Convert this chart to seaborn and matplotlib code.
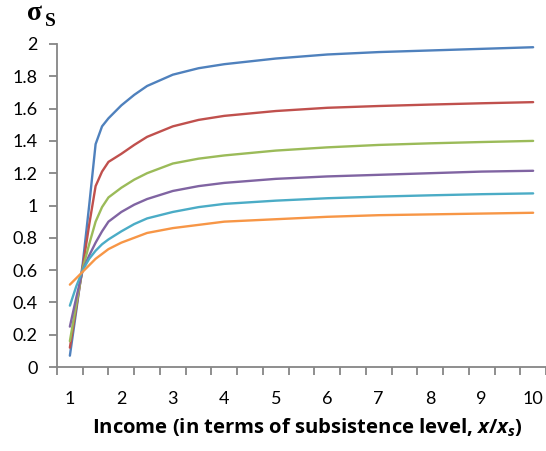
import matplotlib
matplotlib.use("Agg")
import matplotlib.pyplot as plt
import numpy as np
import pandas as pd
import seaborn as sns

# ---- data ----
income = [1, 1.125, 1.25, 1.375, 1.5, 1.625, 1.75, 2, 2.25, 2.5, 3, 3.5, 4, 5, 6, 7, 8, 9, 10]
series_blue = [0.07, 0.35, 0.64, 1.00, 1.38, 1.49, 1.54, 1.62, 1.685, 1.74, 1.81, 1.85, 1.875, 1.91, 1.935, 1.95, 1.96, 1.97, 1.98]
series_red = [0.12, 0.37, 0.62, 0.88, 1.12, 1.21, 1.27, 1.32, 1.375, 1.425, 1.49, 1.53, 1.555, 1.585, 1.605, 1.616, 1.625, 1.633, 1.64]
series_green = [0.16, 0.39, 0.61, 0.76, 0.90, 0.99, 1.05, 1.11, 1.16, 1.20, 1.26, 1.29, 1.31, 1.34, 1.36, 1.375, 1.385, 1.393, 1.40]
series_purple = [0.25, 0.43, 0.60, 0.69, 0.77, 0.84, 0.90, 0.96, 1.005, 1.04, 1.09, 1.12, 1.14, 1.165, 1.18, 1.19, 1.20, 1.21, 1.215]
series_cyan = [0.38, 0.50, 0.60, 0.67, 0.72, 0.76, 0.79, 0.84, 0.885, 0.92, 0.96, 0.99, 1.01, 1.03, 1.045, 1.055, 1.063, 1.07, 1.075]
series_orange = [0.51, 0.55, 0.59, 0.63, 0.67, 0.70, 0.73, 0.77, 0.80, 0.83, 0.86, 0.88, 0.90, 0.915, 0.93, 0.94, 0.945, 0.95, 0.955]

series_names = ["s1", "s2", "s3", "s4", "s5", "s6"]
series_values = [series_blue, series_red, series_green, series_purple, series_cyan, series_orange]
colors = ["#4F81BD", "#C0504D", "#9BBB59", "#8064A2", "#4BACC6", "#F79646"]

x_label_ticks = [1, 2, 3, 4, 5, 6, 7, 8, 9, 10]
y_ticks = [0, 0.2, 0.4, 0.6, 0.8, 1, 1.2, 1.4, 1.6, 1.8, 2]
y_tick_labels = ["0", "0.2", "0.4", "0.6", "0.8", "1", "1.2", "1.4", "1.6", "1.8", "2"]

rows = []
for name, vals in zip(series_names, series_values):
    for xv, yv in zip(income, vals):
        rows.append({"income": xv, "sigma": yv, "series": name})
df = pd.DataFrame(rows)

sns.set_theme(style="white")
plt.rcParams['font.family'] = ['Lato', 'DejaVu Sans']
plt.rcParams['mathtext.fontset'] = 'custom'
plt.rcParams['mathtext.it'] = 'Open Sans:italic:bold'
plt.rcParams['mathtext.rm'] = 'Open Sans:bold'

W, H = 546, 451
fig = plt.figure(figsize=(W / 100, H / 100), dpi=100)
left, right, top, bottom = 57, 546, 44, 367
ax = fig.add_axes([left / W, 1 - bottom / H, (right - left) / W, (bottom - top) / H])

sns.lineplot(data=df, x="income", y="sigma", hue="series", palette=colors,
             hue_order=series_names, linewidth=1.7, legend=False, ax=ax, sort=True)
for ln in ax.get_lines():
    ln.set_solid_joinstyle("round")
    ln.set_solid_capstyle("round")

ax.set_xlim(0.75, 10.25)
ax.set_ylim(0, 2)

gray = "#868686"
for s in ["top", "right"]:
    ax.spines[s].set_visible(False)
for s in ["left", "bottom"]:
    ax.spines[s].set_color(gray)
    ax.spines[s].set_linewidth(1.3)

# x: tick marks between categories, labels at integers
ax.set_xticks(np.arange(0.75, 10.26, 0.5))
ax.set_xticklabels([])
ax.set_xticks(x_label_ticks, minor=True)
ax.set_xticklabels([str(v) for v in x_label_ticks], minor=True)
ax.tick_params(axis="x", which="major", direction="out", length=6, width=1.3, color=gray, bottom=True)
ax.tick_params(axis="x", which="minor", length=0, pad=17, labelsize=13, labelcolor="black", bottom=True)

ax.set_yticks(y_ticks)
ax.set_yticklabels(y_tick_labels)
ax.tick_params(axis="y", which="major", direction="out", length=6, width=1.3, color=gray,
               left=True, labelsize=13, labelcolor="black", pad=8)

ax.set_xlabel(r"Income (in terms of subsistence level, $x$/$x_s$)", fontsize=14.6,
              fontweight="bold", family="Open Sans", color="black", labelpad=6)
ax.xaxis.set_label_coords(0.513, -0.155)
ax.set_ylabel("")

fig.text(27 / W, 1 - 20 / H, "σ", fontsize=20, fontweight="bold",
         family="Liberation Serif", color="black", va="baseline", ha="left")
fig.text(45 / W, 1 - 26 / H, "S", fontsize=14, fontweight="bold",
         family="Liberation Serif", color="black", va="baseline", ha="left")

fig.savefig("out.png", dpi=100, facecolor="white")
